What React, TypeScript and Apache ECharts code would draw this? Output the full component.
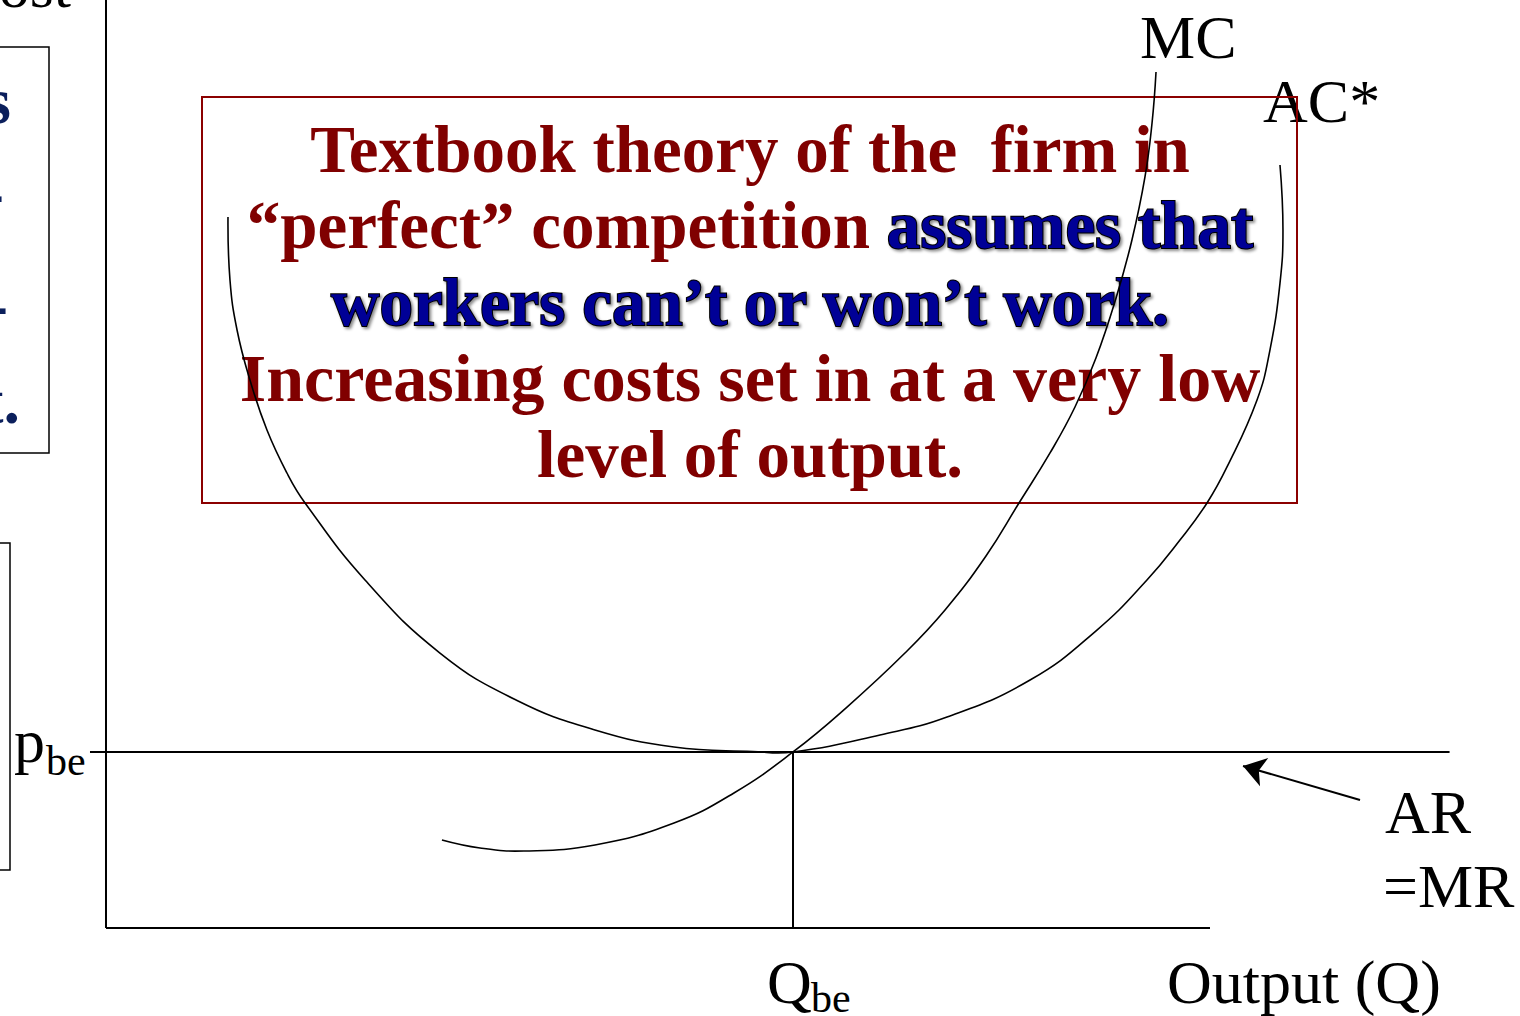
import React, { useEffect, useRef } from "react";
import * as echarts from "echarts";

// ---- data (Output Q on x, Cost on y; axis box spans 0..100 on both) ----
const P_BE = 18.97;
const Q_BE = 62.23;

const acCurve: number[][] = [
  [11.05, 76.62], [11.23, 69.83], [11.87, 64.44], [13.04, 59.05], [14.58, 53.66],
  [16.39, 49.03], [18.03, 45.8], [23.46, 37.5], [30.25, 29.63], [37.14, 24.57],
  [44.29, 21.34], [51.45, 19.5], [58.61, 19.02], [62.23, 18.97], [70.11, 20.8],
  [76.18, 22.74], [83.7, 26.72], [89.76, 32.11], [94.29, 37.5], [97.28, 41.81],
  [99.73, 45.8], [101.54, 49.68], [104.26, 56.9], [105.43, 62.28], [106.34, 69.5],
  [106.61, 75.22], [106.34, 82.22],
];

const mcCurve: number[][] = [
  [30.43, 9.48], [33.88, 8.62], [37.86, 8.3], [44.29, 8.94], [51.45, 11.31],
  [56.88, 14.55], [62.23, 18.97], [67.12, 23.81], [72.37, 29.63], [76.0, 34.27],
  [79.71, 40.09], [82.7, 45.8], [85.51, 51.19], [87.77, 56.14], [89.67, 61.42],
  [91.49, 67.89], [92.93, 74.14], [94.11, 80.93], [94.75, 86.75], [95.11, 92.24],
];

const yAxisLine: number[][] = [[0, 0], [0, 100]];
const xAxisLine: number[][] = [[0, 0], [100, 0]];
const arLine: number[][] = [[-1.45, P_BE], [121.7, P_BE]];
const qbeLine: number[][] = [[Q_BE, 0], [Q_BE, P_BE]];
const arArrow: number[][] = [[113.59, 13.79], [102.99, 17.46]];

// visible window of the slide (axis box maps 0..100)
const X_MIN = -9.6014;
const X_MAX = 128.08;

const boxLine1 = "Textbook theory of the\u00a0 firm in";
const boxLine2Red = "\u201cperfect\u201d competition ";
const boxLine2Blue = "assumes that";
const boxLine3 = "workers can\u2019t or won\u2019t work.";
const boxLine4 = "Increasing costs set in at a very low";
const boxLine5 = "level of output.";

const SERIF = "'Liberation Serif', 'Times New Roman', serif";
const RED = "#800000";
const NAVY = "#000096";
const SIDE_NAVY = "#0b1f5c";

export default function App() {
  const ref = useRef<HTMLDivElement>(null);

  useEffect(() => {
    document.body.style.margin = "0";
    document.body.style.overflow = "hidden";
    if (!ref.current) return;
    const chart = echarts.init(ref.current, undefined, { renderer: "svg" });

    const boxFont = `bold 67px ${SERIF}`;
    const wideFont = `bold 68px ${SERIF}`;
    const labelFont = `62px ${SERIF}`;
    const subFont = `42px ${SERIF}`;
    const sideFont = `bold 66px ${SERIF}`;
    const blueStyle = {
      font: boxFont,
      fill: NAVY,
      stroke: "#000",
      lineWidth: 2,
      textShadowColor: "rgba(0,0,0,0.45)",
      textShadowBlur: 3,
      textShadowOffsetX: 2,
      textShadowOffsetY: 2,
    };

    const txt = (text: string, x: number, y: number, font: string, extra: any = {}) => ({
      type: "text",
      x,
      y,
      z: 1,
      silent: true,
      style: { text, font, fill: "#000", textAlign: "left", textVerticalAlign: "middle", ...extra },
    });

    const hidden = {
      axisLine: { show: false },
      axisTick: { show: false },
      axisLabel: { show: false },
      splitLine: { show: false },
    };

    const plain = (name: string, data: number[][], width: number, extra: any = {}) => ({
      name,
      type: "line",
      data,
      symbol: "none",
      clip: false,
      silent: true,
      lineStyle: { color: "#000", width },
      ...extra,
    });

    // smooth curve through the read points, positioned by the axes (api.coord)
    const curve = (name: string, pts: number[][]) => ({
      name,
      type: "custom",
      silent: true,
      clip: false,
      z: 2,
      data: [pts[0]],
      renderItem: (_params: any, api: any) => ({
        type: "polyline",
        shape: {
          points: pts.map((p) => api.coord(p)),
          smooth: 0.45,
          smoothConstraint: false,
        },
        style: { stroke: "#000", lineWidth: 1.6, fill: "none" },
      }),
    });

    const option: any = {
      animation: false,
      backgroundColor: "#fff",
      grid: { left: 0, top: 0, width: 1520, height: 928 },
      xAxis: { type: "value", min: X_MIN, max: X_MAX, ...hidden },
      yAxis: { type: "value", min: 0, max: 100, ...hidden },
      series: [
        plain("yAxis", yAxisLine, 2),
        plain("xAxis", xAxisLine, 2),
        curve("AC*", acCurve),
        curve("MC", mcCurve),
        plain("AR=MR", arLine, 2, {
          markLine: {
            silent: true,
            symbol: ["none", "arrow"],
            symbolSize: 22,
            label: { show: false },
            lineStyle: { color: "#000", width: 2, type: "solid" },
            itemStyle: { color: "#000" },
            data: [[{ coord: arArrow[0] }, { coord: arArrow[1] }]],
          },
        }),
        plain("Qbe", qbeLine, 2),
      ],
      graphic: [
        // clipped left-hand boxes of the slide
        { type: "rect", z: 1, silent: true, shape: { x: -10, y: 47, width: 59, height: 406 }, style: { fill: "none", stroke: "#000", lineWidth: 1.5 } },
        { type: "rect", z: 1, silent: true, shape: { x: -10, y: 543, width: 20, height: 327 }, style: { fill: "none", stroke: "#000", lineWidth: 1.5 } },
        txt("s", 11, 100, sideFont, { fill: SIDE_NAVY, textAlign: "right" }),
        txt("-", 4, 192, sideFont, { fill: SIDE_NAVY, textAlign: "right" }),
        txt("-", 8, 304, sideFont, { fill: SIDE_NAVY, textAlign: "right" }),
        txt("t.", 20, 400, sideFont, { fill: SIDE_NAVY, textAlign: "right" }),
        // axis titles and curve labels
        txt("Cost", 71, -14, labelFont, { textAlign: "right" }),
        txt("MC", 1140, 37, labelFont),
        txt("AC*", 1263, 101, labelFont),
        txt("AR", 1385, 812, labelFont),
        txt("=MR", 1383, 886, labelFont),
        txt("Output (Q)", 1167, 982, labelFont),
        txt("Q", 767, 982, labelFont),
        txt("be", 811, 998, subFont),
        txt("p", 14, 741, labelFont),
        txt("be", 46, 761, subFont),
        // text box
        { type: "rect", z: 1, silent: true, shape: { x: 202, y: 97, width: 1095, height: 406 }, style: { fill: "none", stroke: "#8B0000", lineWidth: 2 } },
        txt(boxLine1, 750, 149, boxFont, { fill: RED, textAlign: "center" }),
        {
          type: "text",
          x: 750,
          y: 225,
          z: 1,
          silent: true,
          style: {
            text: `{r|${boxLine2Red}}{b|${boxLine2Blue}}`,
            textAlign: "center",
            textVerticalAlign: "middle",
            font: boxFont,
            rich: {
              r: { font: boxFont, fill: RED },
              b: blueStyle,
            },
          },
        },
        txt(boxLine3, 750, 302, boxFont, { ...blueStyle, textAlign: "center" }),
        txt(boxLine4, 750, 378, wideFont, { fill: RED, textAlign: "center" }),
        txt(boxLine5, 750, 454, boxFont, { fill: RED, textAlign: "center" }),
      ],
    };

    chart.setOption(option);
    return () => chart.dispose();
  }, []);

  return <div ref={ref} style={{ width: 1520, height: 1016 }} />;
}
